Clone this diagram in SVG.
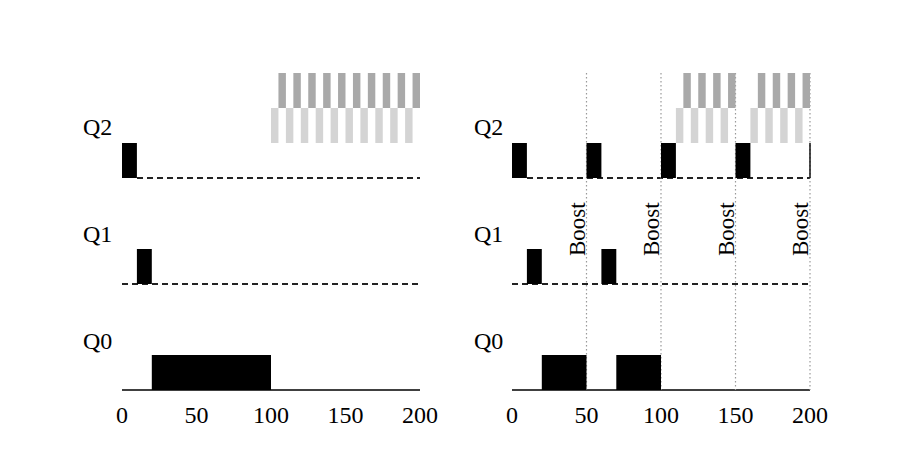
<svg xmlns="http://www.w3.org/2000/svg" width="919" height="472" viewBox="0 0 919 472">
<style>
text{font-family:"Liberation Serif","Times New Roman",serif;font-size:24px;fill:#000}
.tick{text-anchor:middle}
.boost{font-size:23px}
.blk{fill:#000}
.dk{fill:#a9a9a9}
.lt{fill:#d4d4d4}
.dash{stroke:#222;stroke-width:1.8;stroke-dasharray:6 4;fill:none}
.axis{stroke:#000;stroke-width:1.5;fill:none}
.dot{stroke:#999;stroke-width:1.2;stroke-dasharray:1.5 2.5;fill:none}
</style>
<rect width="919" height="472" fill="#fff"/>
<g id="left">
  <g id="left-labels">
    <text x="83" y="135">Q2</text>
    <text x="83" y="242">Q1</text>
    <text x="83" y="349">Q0</text>
    <text class="tick" x="122" y="423">0</text>
    <text class="tick" x="196.5" y="423">50</text>
    <text class="tick" x="271" y="423">100</text>
    <text class="tick" x="345.5" y="423">150</text>
    <text class="tick" x="420" y="423">200</text>
  </g>
  <g id="left-lines">
    <line class="dash" x1="137" y1="178" x2="420" y2="178"/>
    <line class="dash" x1="122" y1="284" x2="420" y2="284"/>
    <line class="axis" x1="122" y1="390" x2="420" y2="390"/>
  </g>
  <g id="left-blocks">
    <rect class="blk" x="122" y="143" width="14.9" height="35"/>
    <rect class="blk" x="136.9" y="249" width="14.9" height="35"/>
    <rect class="blk" x="151.8" y="355" width="119.2" height="35"/>
  </g>
  <g id="left-stripes">
    <rect class="lt" x="271" y="108" width="7.45" height="35"/>
    <rect class="lt" x="285.9" y="108" width="7.45" height="35"/>
    <rect class="lt" x="300.8" y="108" width="7.45" height="35"/>
    <rect class="lt" x="315.7" y="108" width="7.45" height="35"/>
    <rect class="lt" x="330.6" y="108" width="7.45" height="35"/>
    <rect class="lt" x="345.5" y="108" width="7.45" height="35"/>
    <rect class="lt" x="360.4" y="108" width="7.45" height="35"/>
    <rect class="lt" x="375.3" y="108" width="7.45" height="35"/>
    <rect class="lt" x="390.2" y="108" width="7.45" height="35"/>
    <rect class="lt" x="405.1" y="108" width="7.45" height="35"/>
    <rect class="dk" x="278.45" y="73" width="7.45" height="35"/>
    <rect class="dk" x="293.35" y="73" width="7.45" height="35"/>
    <rect class="dk" x="308.25" y="73" width="7.45" height="35"/>
    <rect class="dk" x="323.15" y="73" width="7.45" height="35"/>
    <rect class="dk" x="338.05" y="73" width="7.45" height="35"/>
    <rect class="dk" x="352.95" y="73" width="7.45" height="35"/>
    <rect class="dk" x="367.85" y="73" width="7.45" height="35"/>
    <rect class="dk" x="382.75" y="73" width="7.45" height="35"/>
    <rect class="dk" x="397.65" y="73" width="7.45" height="35"/>
    <rect class="dk" x="412.55" y="73" width="7.45" height="35"/>
  </g>
</g>
<g id="right">
  <g id="right-labels">
    <text x="474" y="135">Q2</text>
    <text x="474" y="242">Q1</text>
    <text x="474" y="349">Q0</text>
    <text class="tick" x="512" y="423">0</text>
    <text class="tick" x="586.5" y="423">50</text>
    <text class="tick" x="661" y="423">100</text>
    <text class="tick" x="735.5" y="423">150</text>
    <text class="tick" x="810" y="423">200</text>
  </g>
  <g id="right-lines">
    <line class="dash" x1="527" y1="178" x2="810" y2="178"/>
    <line class="dash" x1="512" y1="284" x2="810" y2="284"/>
    <line class="axis" x1="512" y1="390" x2="810" y2="390"/>
    <line class="dot" x1="586.5" y1="73" x2="586.5" y2="390"/>
    <line class="dot" x1="661" y1="73" x2="661" y2="390"/>
    <line class="dot" x1="735.5" y1="73" x2="735.5" y2="390"/>
    <line class="dot" x1="810" y1="73" x2="810" y2="390"/>
  </g>
  <g id="right-stripes">
    <rect class="lt" x="675.9" y="108" width="7.45" height="35"/>
    <rect class="lt" x="690.8" y="108" width="7.45" height="35"/>
    <rect class="lt" x="705.7" y="108" width="7.45" height="35"/>
    <rect class="lt" x="720.6" y="108" width="7.45" height="35"/>
    <rect class="lt" x="750.4" y="108" width="7.45" height="35"/>
    <rect class="lt" x="765.3" y="108" width="7.45" height="35"/>
    <rect class="lt" x="780.2" y="108" width="7.45" height="35"/>
    <rect class="lt" x="795.1" y="108" width="7.45" height="35"/>
    <rect class="dk" x="683.35" y="73" width="7.45" height="35"/>
    <rect class="dk" x="698.25" y="73" width="7.45" height="35"/>
    <rect class="dk" x="713.15" y="73" width="7.45" height="35"/>
    <rect class="dk" x="728.05" y="73" width="7.45" height="35"/>
    <rect class="dk" x="757.85" y="73" width="7.45" height="35"/>
    <rect class="dk" x="772.75" y="73" width="7.45" height="35"/>
    <rect class="dk" x="787.65" y="73" width="7.45" height="35"/>
    <rect class="dk" x="802.55" y="73" width="7.45" height="35"/>
  </g>
  <g id="right-blocks">
    <rect class="blk" x="512" y="143" width="14.9" height="35"/>
    <rect class="blk" x="586.5" y="143" width="14.9" height="35"/>
    <rect class="blk" x="661" y="143" width="14.9" height="35"/>
    <rect class="blk" x="735.5" y="143" width="14.9" height="35"/>
    <rect class="blk" x="809.3" y="143" width="1.4" height="35"/>
    <rect class="blk" x="526.9" y="249" width="14.9" height="35"/>
    <rect class="blk" x="601.4" y="249" width="14.9" height="35"/>
    <rect class="blk" x="541.8" y="355" width="44.7" height="35"/>
    <rect class="blk" x="616.3" y="355" width="44.7" height="35"/>
  </g>
  <g id="boost-labels">
    <text class="boost" transform="translate(584.5,256) rotate(-90)">Boost</text>
    <text class="boost" transform="translate(659,256) rotate(-90)">Boost</text>
    <text class="boost" transform="translate(733.5,256) rotate(-90)">Boost</text>
    <text class="boost" transform="translate(808,256) rotate(-90)">Boost</text>
  </g>
</g>
</svg>
